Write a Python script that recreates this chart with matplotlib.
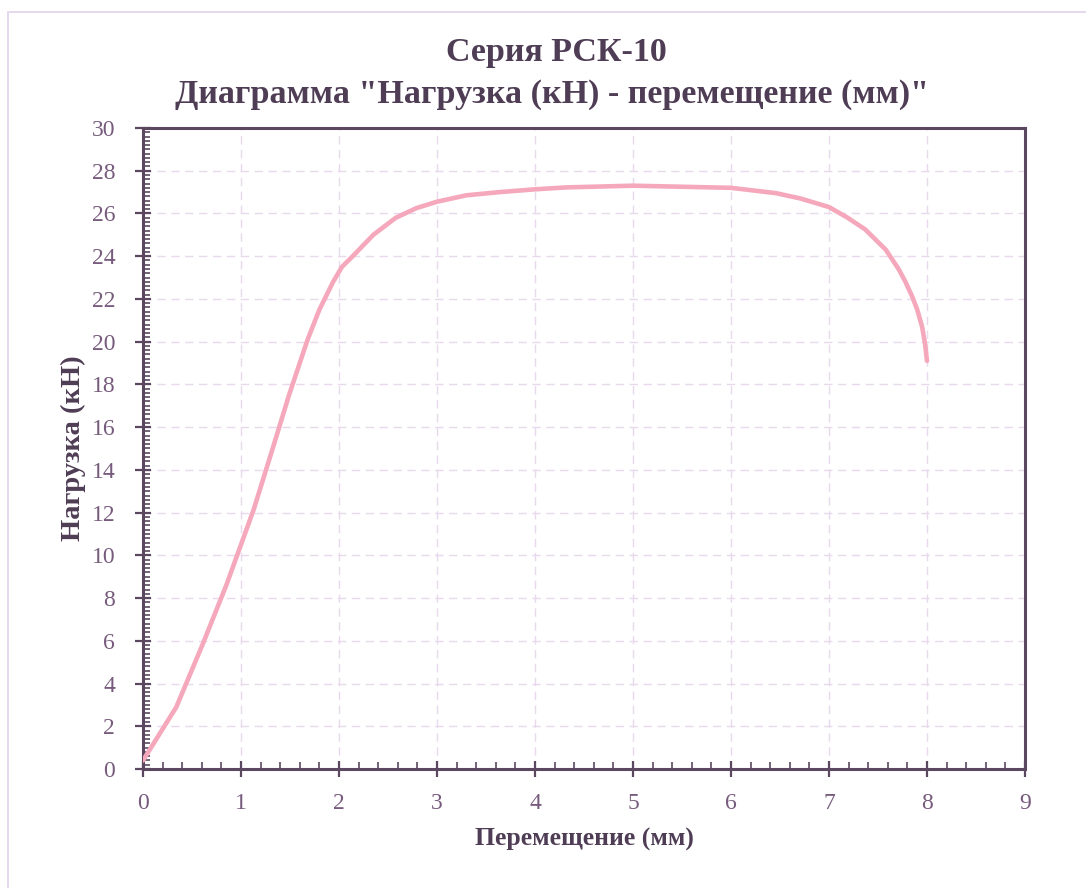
import matplotlib
matplotlib.use("Agg")
import matplotlib.pyplot as plt
from matplotlib.ticker import MultipleLocator
from matplotlib.lines import Line2D

# Data
displacement_mm = [0.0, 0.34, 0.61, 0.85, 1.0, 1.13, 1.33, 1.49, 1.68, 1.80, 1.94,
                   2.03, 2.14, 2.35, 2.58, 2.79, 3.0, 3.3, 3.64, 4.0, 4.32, 5.0, 6.0,
                   6.46, 6.71, 7.0, 7.19, 7.37, 7.58, 7.71, 7.78, 7.85, 7.9, 7.95,
                   7.98, 8.0]
load_kn = [0.4, 2.9, 5.85, 8.6, 10.5, 12.15, 15.1, 17.5, 20.1, 21.5, 22.8,
           23.5, 24.0, 25.0, 25.8, 26.25, 26.55, 26.85, 27.0, 27.13, 27.22, 27.3, 27.2,
           26.95, 26.7, 26.3, 25.8, 25.25, 24.3, 23.4, 22.8, 22.1, 21.5, 20.7,
           19.9, 19.1]
x_ticks = list(range(0, 10))
y_ticks = list(range(0, 31, 2))
title_lines = ["Серия РСК-10", 'Диаграмма "Нагрузка (кН) - перемещение (мм)"']
x_label = "Перемещение (мм)"
y_label = "Нагрузка (кН)"

plt.rcParams['font.family'] = ['Liberation Serif', 'DejaVu Serif']

spine_col = '#5b4860'
text_col = '#4f3d55'
tick_col = '#775b7c'
curve_col = '#f5a8bb'
grid_col = '#e8d9ec'

fig = plt.figure(figsize=(10.86, 8.88), dpi=100)
ax = fig.add_axes([143/1086, 1-769/888, (1025-143)/1086, (769-128)/888])

ax.plot(displacement_mm, load_kn, color=curve_col, lw=3.3, solid_capstyle='round',
        solid_joinstyle='round', zorder=3)

ax.set_xlim(0, 9)
ax.set_ylim(0, 30)
ax.set_xticks(x_ticks)
ax.set_yticks(y_ticks)
ax.xaxis.set_minor_locator(MultipleLocator(0.2))
ax.yaxis.set_minor_locator(MultipleLocator(0.2))

ax.grid(True, which='major', color=grid_col, linestyle=(0, (6, 4)), lw=1.0, zorder=0)

for s in ax.spines.values():
    s.set_color(spine_col)
    s.set_linewidth(2.2)

ax.tick_params(which='major', direction='inout', length=12, width=1.6,
               color=spine_col, labelsize=17, labelcolor=tick_col)
ax.tick_params(axis='x', which='major', pad=11)
ax.tick_params(axis='y', which='major', pad=14)
ax.tick_params(which='minor', direction='in', length=5, width=1.2, color=spine_col)
ax.tick_params(axis='x', which='both', top=False)
ax.tick_params(axis='y', which='both', right=False)

ax.set_xlabel(x_label, fontsize=18.5, fontweight='bold', color=text_col, labelpad=10)
ax.set_ylabel(y_label, fontsize=20.5, fontweight='bold', color=text_col, labelpad=4)

fig.text(0.512, 1-53/888, title_lines[0], ha='center', va='center', fontsize=24.5,
         fontweight='bold', color=text_col)
fig.text(0.508, 1-95/888, title_lines[1], ha='center', va='center', fontsize=24.5,
         fontweight='bold', color=text_col)

# faint frame lines of the scanned page
fig.add_artist(Line2D([10/1086, 1], [1-12/888, 1-12/888], color='#e2d2ea', lw=1.2,
                      transform=fig.transFigure))
fig.add_artist(Line2D([8/1086, 8/1086], [0, 1-12/888], color='#e2d2ea', lw=1.2,
                      transform=fig.transFigure))

fig.savefig("out.png", dpi=100, facecolor='white')
